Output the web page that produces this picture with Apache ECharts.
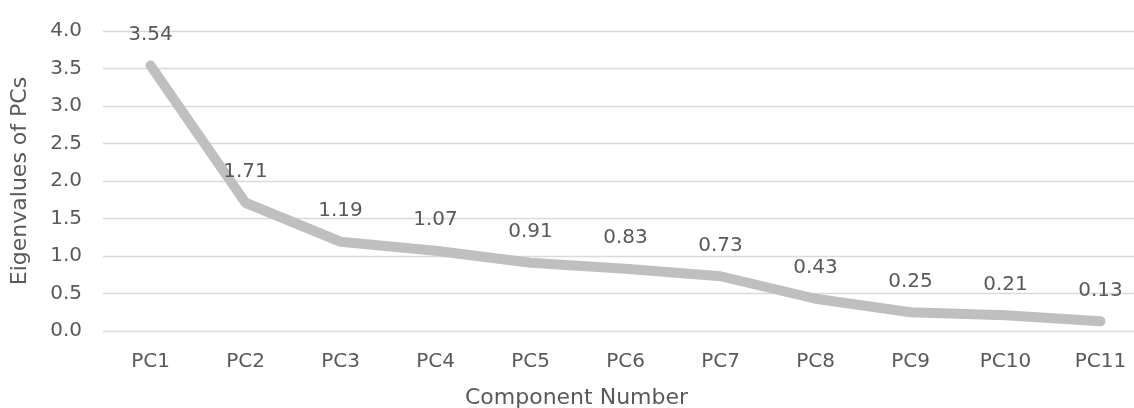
<!DOCTYPE html>
<html><head><meta charset="utf-8">
<script src="https://cdn.jsdelivr.net/npm/echarts@6/dist/echarts.min.js"></script>
<style>html,body{margin:0;padding:0;background:#fff}#c{width:1134px;height:408px}</style>
</head><body><div id="c"></div>
<script>
var categories = ['PC1','PC2','PC3','PC4','PC5','PC6','PC7','PC8','PC9','PC10','PC11'];
var eigenvalues = [3.54,1.71,1.19,1.07,0.91,0.83,0.73,0.43,0.25,0.21,0.13];
var FONT = 'DejaVu Sans';
var chart = echarts.init(document.getElementById('c'), null, {renderer:'canvas'});
chart.setOption({
  animation:false,
  backgroundColor:'#fff',
  textStyle:{fontFamily:FONT},
  grid:{left:103, right:-14, top:31, bottom:77, containLabel:false, outerBoundsMode:'none'},
  xAxis:{
    type:'category', data:categories, boundaryGap:true,
    axisLine:{show:false}, axisTick:{show:false},
    axisLabel:{color:'#595959', fontSize:20, margin:21, fontFamily:FONT},
    name:'Component Number', nameLocation:'middle', nameGap:56,
    nameTextStyle:{color:'#595959', fontSize:22, fontFamily:FONT, padding:[0,98,0,0]}
  },
  yAxis:{
    type:'value', min:0, max:4, interval:0.5,
    axisLine:{show:false}, axisTick:{show:false},
    splitLine:{lineStyle:{color:'#d9d9d9', width:1.3}},
    axisLabel:{color:'#595959', fontSize:20, margin:21, fontFamily:FONT,
      formatter:function(v){return v.toFixed(1);}},
    name:'Eigenvalues of PCs', nameLocation:'middle', nameGap:72, nameRotate:90,
    nameTextStyle:{color:'#595959', fontSize:22, fontFamily:FONT}
  },
  series:[{
    type:'line', data:eigenvalues, symbol:'circle', symbolSize:1, showSymbol:true,
    itemStyle:{color:'#bfbfbf'},
    lineStyle:{color:'#bfbfbf', width:10, cap:'round', join:'round'},
    label:{show:true, position:'top', distance:20, color:'#595959', fontSize:20, fontFamily:FONT,
      formatter:function(p){return p.value.toFixed(2);}}
  }]
});
</script></body></html>
